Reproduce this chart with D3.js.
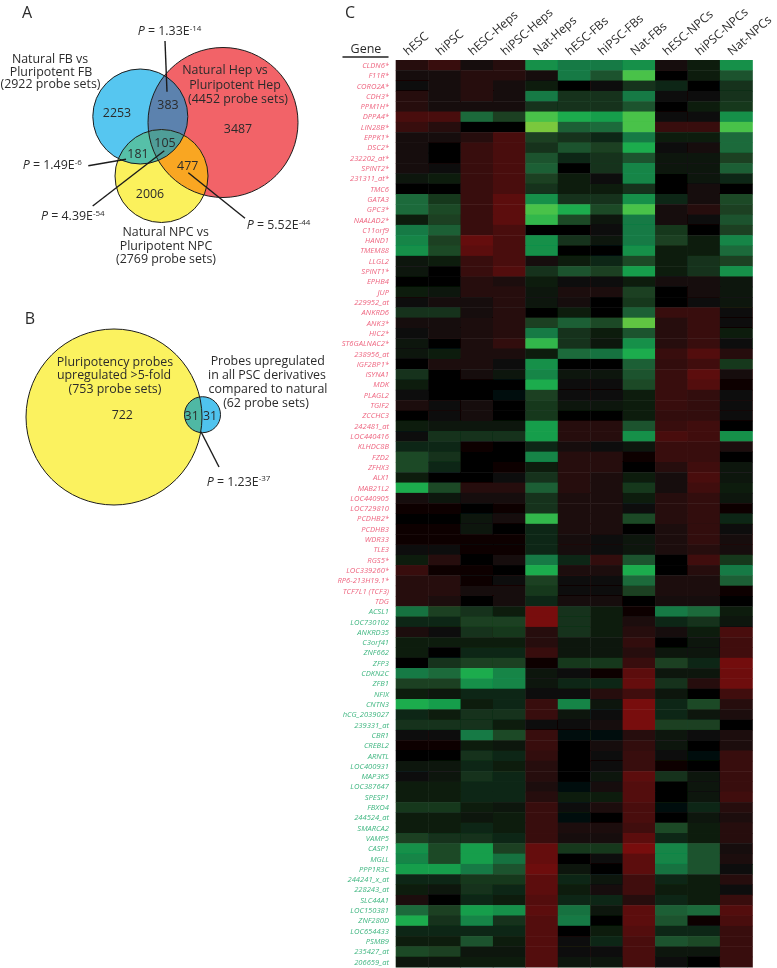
<!DOCTYPE html>
<html><head><meta charset="utf-8">
<script src="https://cdn.jsdelivr.net/npm/d3@7"></script>
<style>html,body{margin:0;padding:0;background:#fff}svg{display:block}text{font-family:"Open Sans",Lato,sans-serif;fill:#2b2b2b}</style>
</head><body><div id="chart"></div>
<script>
const samples=["hESC","hiPSC","hESC-Heps","hiPSC-Heps","Nat-Heps","hESC-FBs","hiPSC-FBs","Nat-FBs","hESC-NPCs","hiPSC-NPCs","Nat-NPCs"];
const upGenes=["CLDN6*","F11R*","CORO2A*","CDH3*","PPM1H*","DPPA4*","LIN28B*","EPPK1*","DSC2*","232202_at*","SPINT2*","231311_at*","TMC6","GATA3","GPC3*","NAALAD2*","C11orf9","HAND1","TMEM88","LLGL2","SPINT1*","EPHB4","JUP","229952_at","ANKRD6","ANK3*","HIC2*","ST6GALNAC2*","238956_at","IGF2BP1*","ISYNA1","MDK","PLAGL2","TGIF2","ZCCHC3","242481_at","LOC440416","KLHDC8B","FZD2","ZFHX3","ALX1","MAB21L2","LOC440905","LOC729810","PCDHB2*","PCDHB3","WDR33","TLE3","RGS5*","LOC339260*","RP6-213H19.1*","TCF7L1 (TCF3)","TDG"];
const downGenes=["ACSL1","LOC730102","ANKRD35","C3orf41","ZNF662","ZFP3","CDKN2C","ZFB1","NFIX","CNTN3","hCG_2039027","239331_at","CBR1","CREBL2","ARNTL","LOC400931","MAP3K5","LOC387647","SPESP1","FBXO4","244524_at","SMARCA2","VAMP5","CASP1","MGLL","PPP1R3C","244241_x_at","228243_at","SLC44A1","LOC150381","ZNF280D","LOC654433","PSMB9","235427_at","206659_at"];
const upValues=[
[-2,-3,-1,-2,7,6,6,7,-1,1,7],
[-1,-1,-2,-2,-1,6,4,9,0,1,4],
[-.5,-1,-2,-1,1,0,-.5,2,1.5,0,2],
[-2,-1,-2,-1,6,2,2,6,-.5,-.5,2],
[-2,-1,-1,-1,2,2,2,4,0,1,2.5],
[-4,-4,5,3,9,8,7.5,9,-.5,-.5,7],
[-3,-2,0,0,10,4.5,5,9,-3,-3,9],
[-1,-1,-2,-4,3,2,1.5,6,1,1,5],
[-1,0,-3,-4,2,4,3,8,-.5,-1,5],
[-1,0,-3,-4,4,1.5,2,4,.5,.5,3],
[-1,-.5,-3,-4,4.5,0,2,6.5,.5,.5,4.5],
[.5,1,-3,-4,3,1,-.5,6.5,0,.5,1.5],
[0,0,-3,-4,2,1,1,2,0,-1,0],
[5,2.5,-3,-5,7,2,2,7,1.5,-1,3.5],
[5,3.5,-3,-5,9,8,3.5,9,-1,-2,3],
[1,3,-3,-5,8.5,3.5,.5,6,-1,-.5,4],
[6,4.5,-3,-4,0,0,-.5,6,2.5,0,3],
[6.5,3,-5.5,-4,7,2,.5,6,3,1,6.5],
[7,3.5,-5,-4,7,0,0,7,1,1,5],
[.5,1,-3,-4,-1,1,1.5,3.5,1,2,3],
[.5,0,-3,-4.5,2,4,3,7.5,1,2,7],
[0,0,-2,-1.5,1,-.5,-.5,1,-1,-1,.5],
[1,.5,-2,-2,.7,-1.5,-1.5,3,0,-1,.7],
[-.5,-1,-1,-2,.5,-1,0,2.5,0,-.5,.5],
[2,2,-1,-2,0,1,0,4.5,-3,-3,-.5],
[-1,-1,-1.5,-2,3,4.5,3.5,9.5,-2,-3,-.5],
[-.5,-1,-1.5,-2,6,2,1,4,-2,-3,1],
[.5,0,-1.5,-2.5,8.5,2,.5,7,-2,-3,.3],
[.5,1,-1.5,-1.5,1,5,5.5,8,-3,-4.5,-2],
[0,-1.5,-1.5,-.5,7,0,0,4.5,-2.5,-3.5,2.5],
[2,0,-1,.5,6.5,.5,.5,4,-3,-5,-1],
[1,0,0,0,8,-.5,-.5,3.5,-3,-4.5,-.3],
[-.5,0,0,.2,3,-.7,-.5,1,-3,-2.5,-.5],
[-1.5,-.5,-1,0,2.5,.5,.5,1,-3,-2.5,-.5],
[0,-.5,-1,0,2.5,0,0,1,-2.5,-2.5,-.5],
[1,.7,.7,.7,7.5,-2,-2,4,-3,-3.5,0],
[.3,2,2,2,7.5,-2,-2,7,-4,-3.5,7],
[1.5,1.5,-.3,0,1.5,-1,-.5,.5,-3,-3,-1.5],
[3.5,2,0,0,6.5,-2,-2,-.2,-3,-3,0],
[3.5,1.5,0,-.3,1,-2,-2,0,-2,-3.5,.5],
[1,0,0,-.5,2,-2,-1.5,1,-1,-4,.5],
[8,3.5,-2,-2,4.5,-2,-1.5,2.5,-1,-3.5,1],
[-1,.5,-1,-1,2,-1.5,-1.5,1,-2,-2.5,.5],
[-.3,-.3,0,-.3,2,-1.5,-1.5,.3,-2,-2.5,-.2],
[0,0,.5,-1,8.5,-1.5,-1.5,3.5,-2,-2.5,1.5],
[-.2,-.2,.5,0,1.5,-1.5,-1.5,0,-1.5,-2.5,-.7],
[-.3,-.3,-.2,-.2,1.5,-1,-.7,.5,-1.5,-2.5,-1],
[-.5,-.5,-.2,-.2,1.5,-1,-.5,.5,-1.5,-2,-1],
[1,-2,0,-1,6,1.5,-2.5,4,0,-3.5,2.5],
[-3,-.2,-.2,0,8,-1.5,-1.5,8,0,-2,6],
[-2,-2,-.1,-.7,3,-.7,-.5,5,-1.5,-1.5,4.5],
[-2,-2,-1,-1,2.5,-.5,-.7,3,-1.5,-1.5,-.3],
[-2,-1.5,0,-1,1.5,-1,-1,0,-1,-1,0]];
const downValues=[
[5.5,3,2,1,-7,2,1,-.3,6,5,1],
[1.5,1.5,3,3,-7,2,1,-1.5,1.5,2,.5],
[-1.5,-.5,2,2.5,-2,2,1,-2,-1,1,-4],
[1,1,1,1,-2,.7,.7,-2.5,0,.5,-3.5],
[1,0,1.5,1.5,-3,.7,.7,-2,.5,.5,-3.5],
[0,2,3,3,-.2,2.5,2.5,-3,3,1.5,-6.5],
[6,5,8,6.5,.5,-.7,-.2,-5,.7,.7,-6],
[3,3,7,6.5,.5,1.5,1.5,-5.5,2,-2,-6],
[1,.5,1.5,1.5,.3,-.7,-2,-3.5,.7,0,-3.5],
[8,7.5,1,1.5,-3,6.5,.5,-7,1.5,3.5,-2],
[1.5,1,2,2,-3,.5,.3,-7,1.5,.7,-1.5],
[2,2,2,1,-.7,-.5,-1,-7,3,3,0],
[-.5,-.7,6,3.5,-3,.2,.2,-2,.7,.3,-1.5],
[-.2,-.2,1,.7,-3,0,-1,-2.5,.5,0,-1.5],
[0,0,2,1.5,-2.5,0,-.5,-3,.3,.2,-3],
[.5,.7,1.5,1,-2,0,-.5,-3,-.3,0,-3],
[.3,.5,2,1.5,-2,0,.5,-5,2,.5,-3],
[1,1,1.5,1.5,-1.5,.2,-1,-4.5,0,.5,-3],
[1,1,1.5,1.5,-2,1,1,-4.5,0,.5,-3.5],
[2.5,2.5,1,.7,-3,.3,-1.5,-4,.2,1.5,-2],
[1,1,.7,1,-3,.2,0,-4,0,.5,-1.5],
[1,1,1.5,1,-3,-1.5,-1.5,-3.5,3.5,1,-2],
[3,2,2,1.5,-3,-1,-1,-5,1.5,1,-2],
[7,3.5,7.5,3,-5.5,2.5,2.5,-7,6.5,4,-1],
[6.5,3.5,7.5,5.5,-5.5,0,-.7,-5,6.5,4,-1.5],
[7.5,7.5,6,4,-6,.5,0,-5,5.5,4,.3],
[1.5,1.5,2.5,2.5,-5,1.5,.5,-3.5,1.5,1,-2],
[1,.5,2,1.5,-5,1,-1,-3.5,1,1,-.7],
[-1.5,0,1.5,1,-4.5,1.5,1.5,-2,1.5,1,-3],
[5,3,7.5,7,-5,5.5,.7,-5,4.5,5,-4.5],
[8,2,6.5,2,-4.5,6,0,-5,4,-.2,-4],
[1.5,1.5,1.5,1.5,-4.5,0,1,-4.5,1.5,1.5,-3],
[1,1,4,1,-4.5,-.7,1.5,-4,4,3.5,-3],
[3.5,3,.7,.7,-4.5,.3,-.7,-4,.7,.7,-3],
[.7,.7,1,1,-4.5,.7,.5,-4,.3,0,-3]];
const vennACounts=[2253,383,3487,105,181,477,2006];
const vennBCounts=[722,31,31];
const colorDomain=[-8,-6,-4,-2,0,1,2,3,4,5,6,7,8,9,10];
const colorRange=["#820c0c","#6e0e0e","#4a1010","#270b0b","#050505","#0c1e0e","#12301a","#1a4020","#1d532e","#1a6a3a","#127a44","#12904a","#1eac4e","#48c248","#7ac83e"];

const W=777,H=968;
const svg=d3.select("#chart").append("svg").attr("width",W).attr("height",H);
const defs=svg.append("defs");
defs.append("filter").attr("id","soft").attr("x","-5%").attr("y","-5%").attr("width","110%").attr("height","110%")
  .append("feGaussianBlur").attr("stdDeviation",0.35);
defs.append("filter").attr("id","softHeat").attr("x","0").attr("y","0").attr("width","100%").attr("height","100%")
  .append("feGaussianBlur").attr("stdDeviation",0.7);
const root=svg.append("g").attr("filter","url(#soft)");

// ---------- heatmap ----------
const genes=upGenes.concat(downGenes), values=upValues.concat(downValues);
const x=d3.scaleBand().domain(samples).range([395.7,752.3]);
const y=d3.scaleBand().domain(d3.range(genes.length)).range([60,967]);
const color=d3.scaleLinear().domain(colorDomain).range(colorRange).clamp(true);
const heat=root.append("g").attr("filter","url(#softHeat)");
heat.selectAll("g").data(values).join("g").attr("transform",(d,i)=>`translate(0,${y(i)})`)
 .selectAll("rect").data(d=>d).join("rect")
 .attr("x",(d,j)=>x(samples[j])).attr("width",x.bandwidth()+.5).attr("height",y.bandwidth()+.5).attr("fill",d=>color(d));
root.selectAll(".gene").data(genes).join("text").attr("class","gene")
 .attr("x",389).attr("y",(d,i)=>y(i)+y.bandwidth()/2+2.8)
 .attr("text-anchor","end").attr("font-size",7.6).attr("font-style","italic")
 .style("fill",(d,i)=>i<upGenes.length?"#ee6680":"#3fb680").text(d=>d);
root.selectAll(".col").data(samples).join("text").attr("class","col")
 .attr("transform",d=>`translate(${x(d)+x.bandwidth()/2-4},56) rotate(-41)`)
 .attr("font-size",12).text(d=>d);
root.append("text").attr("x",366).attr("y",53).attr("text-anchor","middle").attr("font-size",12.5).text("Gene");
root.append("line").attr("x1",342.5).attr("x2",388.5).attr("y1",57).attr("y2",57).attr("stroke","#222").attr("stroke-width",1.5);

// ---------- helpers ----------
function label(t,px,py,size){root.append("text").attr("x",px).attr("y",py).attr("text-anchor","middle").attr("font-size",size||12.4).text(t);}
// one wrapped label: a single text element with one tspan per line
function wrapped(lines){
  const t=root.append("text").attr("text-anchor","middle").attr("font-size",12.4);
  lines.forEach(l=>t.append("tspan").attr("x",l[1]).attr("y",l[2]).text(l[0]));
}
function pval(mant,exp,px,py){
  const t=root.append("text").attr("x",px).attr("y",py).attr("font-size",12.4);
  t.append("tspan").attr("font-style","italic").text("P");
  t.append("tspan").text(" = "+mant+"E");
  t.append("tspan").attr("font-size",8).attr("dy",-4.5).text(exp);
}
function leader(a,b,c,d){root.append("line").attr("x1",a).attr("y1",b).attr("x2",c).attr("y2",d).attr("stroke","#1c1c1c").attr("stroke-width",1.4);}
function circ(g,c,fill,stroke){return g.append("circle").attr("cx",c[0]).attr("cy",c[1]).attr("r",c[2]).attr("fill",fill).attr("stroke",stroke||"none").attr("stroke-width",1);}
function clip(id,c){defs.append("clipPath").attr("id",id).append("circle").attr("cx",c[0]).attr("cy",c[1]).attr("r",c[2]);}

// ---------- Venn A ----------
const cFB=[140.3,116.5,47.5],cHep=[223,122.5,75],cNPC=[161.5,176,46.5];
clip("cFB",cFB);clip("cHep",cHep);clip("cNPC",cNPC);
const va=root.append("g");
circ(va,cHep,"#f26368");circ(va,cNPC,"#fbf15c");circ(va,cFB,"#57c6f0");
circ(va.append("g").attr("clip-path","url(#cFB)"),cHep,"#5b82ae");
circ(va.append("g").attr("clip-path","url(#cFB)"),cNPC,"#56c0a8");
circ(va.append("g").attr("clip-path","url(#cHep)"),cNPC,"#f9a620");
circ(va.append("g").attr("clip-path","url(#cFB)").append("g").attr("clip-path","url(#cHep)"),cNPC,"#4f9e98");
[cHep,cNPC,cFB].forEach(c=>circ(va,c,"none","#1d1d1d"));
leader(165,41,167,91.7);leader(88.3,165.7,126,159.3);leader(92.7,206,164.3,150.7);leader(245,218.3,188.3,172.7);
const posA=[[117,116.7],[168,108.7],[238,132.7],[165,147],[138,158],[187.7,170],[150,198]];
vennACounts.forEach((v,i)=>label(v,posA[i][0],posA[i][1]));
label("A",27,18,16);
wrapped([["Natural FB vs",50,62.7],["Pluripotent FB",51,76],["(2922 probe sets)",50.5,88]]);
wrapped([["Natural Hep vs",225,74],["Pluripotent Hep",235,89],["(4452 probe sets)",238,102.7]]);
wrapped([["Natural NPC vs",165.7,236],["Pluripotent NPC",166,250],["(2769 probe sets)",166,263]]);
pval("1.33","-14",137.7,35);pval("1.49","-6",22.7,169);pval("4.39","-54",41,220);pval("5.52","-44",246.7,229);

// ---------- Venn B ----------
const cBig=[114,417,88],cSmall=[202.5,414.7,18];
clip("cBig",cBig);
const vb=root.append("g");
circ(vb,cBig,"#fbf25e");circ(vb,cSmall,"#4fc3ee");
circ(vb.append("g").attr("clip-path","url(#cBig)"),cSmall,"#50b8a4");
circ(vb,cBig,"none","#1d1d1d");circ(vb,cSmall,"none","#1d1d1d");
leader(201,431.7,219,467);
label("B",30,324,16);
wrapped([["Pluripotency probes",115,365.7],["upregulated  >5-fold",114,379],["(753 probe sets)",115,393]]);
label(vennBCounts[0],122.3,419);label(vennBCounts[1],191.7,420);label(vennBCounts[2],210,420);
wrapped([["Probes upregulated",267.7,365],["in all PSC derivatives",267,378.7],["compared to natural",268,392.7],["(62 probe sets)",266,406.7]]);
pval("1.23","-37",206.7,485.7);
label("C",350,18,16);
</script></body></html>
